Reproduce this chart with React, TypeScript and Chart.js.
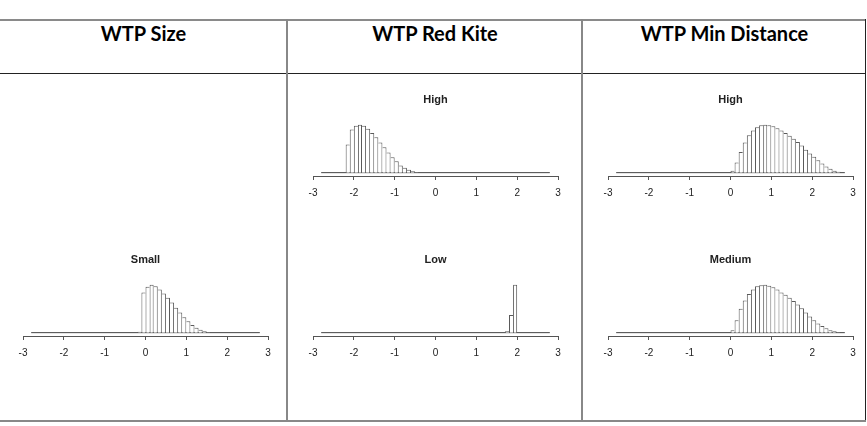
import React, { useEffect, useRef } from "react";
import { Chart, registerables } from "chart.js";

Chart.register(...registerables);

// ---------- data ----------
const BIN_WIDTH = 0.1;
const axisMin = -3;
const axisMax = 3;
const axisStep = 1;
const baselineRange = [-2.8, 2.8];

const columnHeaders = ["WTP Size", "WTP Red Kite", "WTP Min Distance"];

const sizeSmallStart = -0.2;
const sizeSmallHeights = [2, 84, 96, 100, 97, 90, 82, 73, 63, 52, 42, 32, 24, 16, 10, 6, 3, 1];

const redKiteHighStart = -2.2;
const redKiteHighHeights = [59, 90, 98, 100, 98, 92, 83, 74, 63, 53, 42, 32, 24, 15, 10, 6, 3, 1];

const redKiteLowStart = 1.7;
const redKiteLowHeights = [3, 37, 100];

const minDistHighStart = 0.0;
const minDistHighHeights = [4, 21, 43, 63, 78, 88, 95, 99, 100, 99, 97, 93, 88, 83, 77, 71, 64, 57, 48, 40, 33, 26, 19, 13, 8, 4, 2];

const minDistMediumStart = 0.0;
const minDistMediumHeights = [5, 26, 50, 67, 81, 90, 97, 99, 100, 98, 95, 90, 84, 79, 73, 66, 59, 51, 42, 34, 26, 19, 14, 9, 5, 3, 1];

// ---------- layout ----------
const PAD_X = 15;
const AXIS_W = 245;
const CANVAS_W = AXIS_W + 2 * PAD_X;
const TICK_PAD = 7;
const CANVAS_H = 115 + 2 * (TICK_PAD - 5);

type PlotDef = { title: string; start: number; heights: number[]; axisLeft: number; top: number };

const plots: PlotDef[] = [
  { title: "Small", start: sizeSmallStart, heights: sizeSmallHeights, axisLeft: 23, top: 247 },
  { title: "High", start: redKiteHighStart, heights: redKiteHighHeights, axisLeft: 313, top: 87 },
  { title: "Low", start: redKiteLowStart, heights: redKiteLowHeights, axisLeft: 313, top: 247 },
  { title: "High", start: minDistHighStart, heights: minDistHighHeights, axisLeft: 608, top: 87 },
  { title: "Medium", start: minDistMediumStart, heights: minDistMediumHeights, axisLeft: 608, top: 247 },
];

const FONT = "'Liberation Sans', Arial, Helvetica, sans-serif";

function Histogram({ def }: { def: PlotDef }) {
  const ref = useRef<HTMLCanvasElement | null>(null);
  useEffect(() => {
    if (!ref.current) return;
    const h = def.heights;
    const last = h.length - 1;
    const chart = new Chart(ref.current, {
      type: "bar",
      data: {
        datasets: [
          {
            type: "line",
            data: baselineRange.map((x) => ({ x, y: 0 })),
            borderColor: "#444",
            borderWidth: 1,
            pointRadius: 0,
            order: 2,
          } as any,
          {
            type: "bar",
            data: h.map((v, i) => ({ x: def.start + (i + 0.5) * BIN_WIDTH, y: v })),
            backgroundColor: "#ffffff",
            borderColor: "#5a5a5a",
            borderWidth: (ctx: any) => {
              const i = ctx.dataIndex;
              const left = i === 0 || h[i] >= h[i - 1] ? 1 : 0;
              const right = i === last || h[i] > h[i + 1] ? 1 : 0;
              return { top: 1, left, right, bottom: 0 };
            },
            barPercentage: 1,
            categoryPercentage: 1,
            inflateAmount: 0,
            order: 1,
          } as any,
        ],
      },
      options: {
        animation: false,
        responsive: false,
        events: [],
        layout: { padding: { left: PAD_X, right: PAD_X, top: 0, bottom: 0 } },
        plugins: {
          legend: { display: false },
          tooltip: { enabled: false },
          title: {
            display: true,
            text: def.title,
            color: "#222",
            font: { family: FONT, size: 11, weight: "bold" },
            padding: { top: 6, bottom: 10 },
          },
        },
        scales: {
          x: {
            type: "linear",
            min: axisMin,
            max: axisMax,
            offset: false,
            ticks: {
              stepSize: axisStep,
              color: "#222",
              font: { family: FONT, size: 10 },
              padding: TICK_PAD,
              maxRotation: 0,
              autoSkip: false,
            },
            grid: { display: true, offset: false, drawOnChartArea: false, drawTicks: true, tickLength: 4, color: "#555" },
            border: { display: true, color: "#555" },
          },
          y: { display: false, min: -7, max: 118 },
        },
      } as any,
    });
    return () => chart.destroy();
  }, [def]);
  return (
    <canvas
      ref={ref}
      width={CANVAS_W}
      height={CANVAS_H}
      style={{ position: "absolute", left: def.axisLeft - PAD_X, top: def.top, width: CANVAS_W, height: CANVAS_H }}
    />
  );
}

const colBounds = [
  [0, 287],
  [288, 582],
  [583, 866],
];

export default function App() {
  return (
    <div style={{ position: "fixed", left: 0, top: 0, width: 867, height: 426, background: "#fff", overflow: "hidden" }}>
      {/* table lines */}
      <div style={{ position: "absolute", left: 0, top: 19, width: 866, height: 2, background: "#8a8a8a" }} />
      <div style={{ position: "absolute", left: 0, top: 73, width: 866, height: 1, background: "#222" }} />
      <div style={{ position: "absolute", left: 286, top: 19, width: 2, height: 403, background: "#888" }} />
      <div style={{ position: "absolute", left: 581, top: 19, width: 2, height: 403, background: "#888" }} />
      <div style={{ position: "absolute", left: 865, top: 19, width: 1, height: 403, background: "#222" }} />
      <div style={{ position: "absolute", left: 0, top: 420, width: 866, height: 2, background: "#888" }} />
      {columnHeaders.map((t, i) => (
        <div
          key={t}
          style={{
            position: "absolute",
            left: colBounds[i][0],
            width: colBounds[i][1] - colBounds[i][0],
            top: 20,
            height: 26,
            lineHeight: "26px",
            textAlign: "center",
            fontFamily: "Lato, 'Open Sans', sans-serif",
            fontWeight: 700,
            fontSize: 20,
            color: "#000",
          }}
        >
          {t}
        </div>
      ))}
      {plots.map((p, i) => (
        <Histogram key={i} def={p} />
      ))}
    </div>
  );
}
